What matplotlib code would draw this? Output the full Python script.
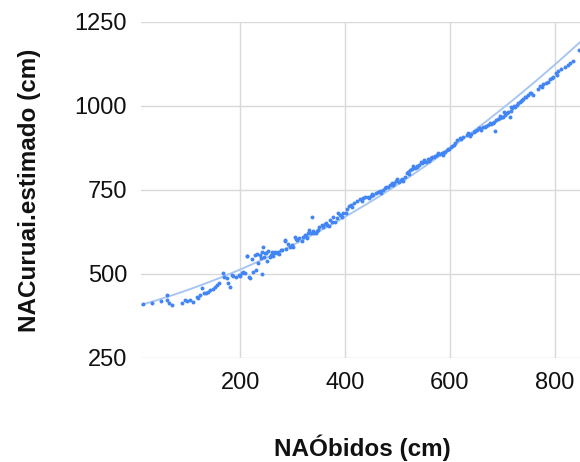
import numpy as np
import matplotlib
matplotlib.use("Agg")
import matplotlib.pyplot as plt

plt.rcParams['font.family'] = ['Liberation Sans', 'DejaVu Sans']

# NAÓbidos (cm) vs NACuruai.estimado (cm)
obidos = [14, 32, 49.5, 60, 61.5, 65, 70, 90, 95, 99.6, 104.8, 110, 117.5, 120.6, 123.8, 127,
          131, 135, 139.6, 143, 148, 152, 155.6, 160.6, 167, 169.5, 174.6, 177.8, 181, 184,
          187, 192, 197, 203, 209.5, 216, 219, 225, 230.5, 241, 213, 228.6, 235, 239, 244,
          247.6, 251, 256, 260, 265, 270, 275, 279, 286,
          212.7, 238, 241, 245.7, 249.5, 254, 263.5, 266.7, 277.5, 285.7, 287.6, 295, 298.5,
          301.6, 304.8, 309, 313, 317.5, 320.6, 323.8, 327, 330, 332, 334.6, 336.5, 338.4,
          341, 344.8, 349, 351, 355.6, 358.7, 364, 366, 370, 374.6, 376.5, 381, 384, 387,
          390.5, 393.7, 396.7, 402, 404.4, 408, 412, 418, 422,
          428.6, 435, 439, 444, 449.5, 454, 458.5, 463.5, 468.6, 473, 476, 481, 485.7, 489,
          494, 496.5, 500, 503, 506.7, 511, 514, 517.5, 520.6, 524, 527, 530, 533, 536.5,
          541, 544.8, 547, 551, 553.7, 557.5, 560, 564, 566.4, 570, 575, 578, 581, 584, 587,
          590.5, 593.7, 596.7, 602, 604.4, 608,
          612.7, 619, 625, 632, 635, 641, 645.7, 650.8, 656, 660, 663, 668.6, 673, 676, 679,
          684, 688, 686, 692, 695, 698.5, 701.5, 705, 708, 711, 714, 715.6, 719, 724, 727,
          730, 733, 736.5, 739.6, 743, 749, 752, 758.7, 771, 778, 783, 787, 790.5, 797, 802,
          804.4, 806, 825, 829.8, 835, 846.6,
          # extra points from the dense parts of the band
          200, 206, 222, 232, 258, 272, 292, 306, 326, 346, 362, 372, 392, 414, 432, 446,
          452, 466, 479, 492, 509, 522, 538, 549, 562, 572, 588, 598, 610, 622, 638, 648,
          658, 666, 682, 696, 703, 717, 722, 735, 745, 755, 768, 775, 795, 812, 820]
curuai = [411, 415, 420.6, 437.5, 422.6, 414.6, 407.7, 415, 422.6, 420.6, 422.6, 417.6, 432, 427.5,
          437.5, 457.4, 442.6, 444, 447, 452, 454, 460, 467, 472, 502, 492, 487, 472, 462, 497,
          494, 492, 497, 502, 502, 492, 487, 507, 512, 500, 553.6, 556.5, 532, 546.6, 579,
          561.5, 540, 551.6, 566, 561.5, 563.5, 559.5, 571, 599,
          553.6, 556.5, 566, 549.6, 561.5, 569, 553.6, 566, 571.4, 601, 573.5, 579.4, 586,
          581.3, 611, 601, 606, 599, 611, 616, 606, 623, 631, 621, 668.7, 629,
          623, 621, 631, 641, 646, 639, 651, 646, 643, 656, 670.6, 656, 665.6, 680.5,
          675.6, 670.6, 682.5, 680.5, 692.4, 702, 705, 712, 716,
          722, 725, 730, 728, 732, 735, 742, 745, 740, 750, 755, 760, 765, 772,
          770, 778, 782, 775, 780, 778, 788, 800, 805, 810, 812, 820, 815, 821.5,
          824, 834, 829, 839, 834, 841, 837, 844, 849, 847, 854, 859, 857, 861, 854,
          864, 869, 871, 877, 881, 884,
          899, 904, 909, 914, 919, 917, 923.5, 928, 933.5, 930, 936.5, 940.5, 943, 948, 946,
          953, 958, 926.5, 960, 963, 968, 966, 973, 978, 983, 968, 986, 993, 998, 1003,
          1008, 1013, 1018, 1020, 1026, 1033, 1038, 1033, 1060, 1065.5, 1069, 1072, 1079, 1087, 1099,
          1092, 1105, 1122, 1127, 1135, 1166.6,
          495, 505, 545, 560, 558, 566, 590, 604, 612, 628, 650, 662, 676, 698, 718, 727,
          738, 748, 758, 766, 784, 798, 818, 832, 842, 852, 862, 873, 890, 902, 912, 925,
          934, 938, 950, 970, 982, 996, 1000, 1016, 1028, 1040, 1052, 1058, 1082, 1110, 1115]

# polynomial trendline (degree 2) coefficients, highest power first
trend_coef = [0.000582, 0.4342, 403.2]

x_ticks = [200, 400, 600, 800]
y_ticks = [250, 500, 750, 1000, 1250]

fig = plt.figure(figsize=(5.8, 4.62), dpi=100)
ax = fig.add_axes([141 / 580, 1 - 358 / 462, 1 - 141 / 580, (358 - 22) / 462])

xs = np.linspace(11, 848, 200)
ax.plot(xs, np.polyval(trend_coef, xs), color='#a9c6f3', linewidth=1.4, zorder=2)
ax.scatter(obidos, curuai, s=8, color='#4285f4', linewidths=0, zorder=3)

ax.set_xlim(11, 848)
ax.set_ylim(250, 1250)
ax.set_xticks(x_ticks)
ax.set_yticks(y_ticks)
ax.grid(True, color='#d9d9d9', linewidth=1)
ax.set_axisbelow(True)
for s in ax.spines.values():
    s.set_visible(False)
ax.tick_params(length=0, labelsize=17, colors='#111111')
ax.tick_params(axis='y', pad=10)
ax.tick_params(axis='x', pad=10)

fig.text(362 / 580, 1 - 448 / 462, 'NAÓbidos (cm)', ha='center', va='center',
         fontsize=17.5, fontweight='bold', color='#111111')
fig.text(30 / 580, 1 - 190 / 462, 'NACuruai.estimado (cm)', ha='center', va='center',
         rotation=90, fontsize=17.5, fontweight='bold', color='#111111')

fig.savefig('out.png', dpi=100)
